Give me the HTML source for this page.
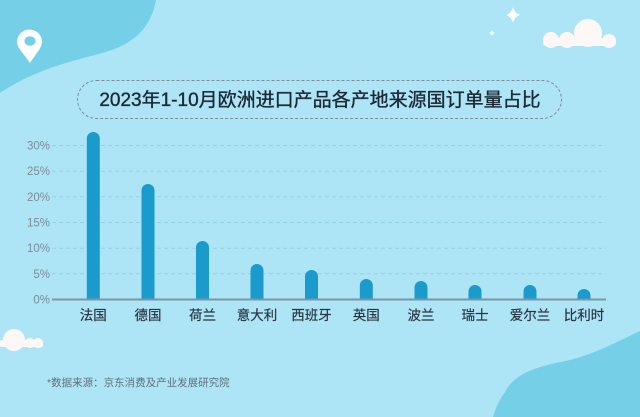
<!DOCTYPE html>
<html><head><meta charset="utf-8"><style>
html,body{margin:0;padding:0;}
body{width:640px;height:417px;overflow:hidden;background:#ade5f7;}
svg{display:block;}
text{font-family:"Liberation Sans","Noto Sans CJK SC",sans-serif;}
</style></head><body>
<svg width="640" height="417" viewBox="0 0 640 417" xmlns="http://www.w3.org/2000/svg">
<rect width="640" height="417" fill="#ade5f7"/>
<!-- top-left blob -->
<path d="M0,0 L156,0 C152,22 140,40 112,50 C80,60 40,66 0,93 Z" fill="#74cfe7"/>
<!-- bottom-right blob -->
<path d="M640,331 C620,340 600,352 570,360 C540,366 515,372 505,392 C498,402 495,410 493,417 L640,417 Z" fill="#74cfe7"/>
<!-- pin -->
<path d="M30,63 C25,55 17,48 17,42 A12.5,12.5 0 0 1 42,42 C42,48 35,55 30,63 Z" fill="#ffffff"/>
<ellipse cx="30" cy="41" rx="5.5" ry="4.8" fill="#74cfe7"/>
<!-- stars -->
<path d="M513,7 Q514.5,13.5 520,15 Q514.5,16.5 513,23 Q511.5,16.5 506,15 Q511.5,13.5 513,7 Z" fill="#ffffff"/>
<path d="M492,30 Q492.6,32.4 495,33 Q492.6,33.6 492,36 Q491.4,33.6 489,33 Q491.4,32.4 492,30 Z" fill="#ffffff"/>
<!-- top-right cloud -->
<g fill="#fdf7f5">
<circle cx="588" cy="33" r="14"/>
<circle cx="551" cy="40" r="8"/>
<circle cx="567" cy="40" r="8"/>
<circle cx="609" cy="41" r="7"/>
<rect x="543" y="38" width="73" height="8" rx="3"/>
</g>
<!-- bottom-left cloud -->
<g fill="#fdf7f5">
<circle cx="14" cy="340" r="11"/>
<circle cx="30" cy="343" r="5"/>
<circle cx="38" cy="343" r="5"/>
<rect x="0" y="340" width="43" height="7" rx="2"/>
</g>
<!-- title box -->
<rect x="77.5" y="80.5" width="484" height="38" rx="19" fill="none" stroke="#7e8c96" stroke-width="1" stroke-dasharray="3,2"/>
<text x="320" y="106" font-size="19" fill="#1c2833" stroke="#1c2833" stroke-width="0.35" text-anchor="middle">2023年1-10月欧洲进口产品各产地来源国订单量占比</text>
<!-- grid -->
<g stroke="#93d2e6" stroke-width="1" stroke-dasharray="4,3">
<line x1="52" y1="145.5" x2="606" y2="145.5"/>
<line x1="52" y1="171.2" x2="606" y2="171.2"/>
<line x1="52" y1="196.8" x2="606" y2="196.8"/>
<line x1="52" y1="222.5" x2="606" y2="222.5"/>
<line x1="52" y1="248.2" x2="606" y2="248.2"/>
<line x1="52" y1="273.8" x2="606" y2="273.8"/>
</g>
<g font-size="11.5" fill="#7c8c96" text-anchor="end">
<text x="50" y="149.5">30%</text>
<text x="50" y="175.2">25%</text>
<text x="50" y="200.8">20%</text>
<text x="50" y="226.5">15%</text>
<text x="50" y="252.2">10%</text>
<text x="50" y="277.8">5%</text>
<text x="50" y="303.5">0%</text>
</g>
<!-- bars -->
<g fill="#1a9bcb">
<path d="M86.8,300 V138.5 A6.5,6.5 0 0 1 99.8,138.5 V300 Z"/>
<path d="M141.5,300 V190.5 A6.5,6.5 0 0 1 154.5,190.5 V300 Z"/>
<path d="M196,300 V247.5 A6.5,6.5 0 0 1 209,247.5 V300 Z"/>
<path d="M250.5,300 V270.5 A6.5,6.5 0 0 1 263.5,270.5 V300 Z"/>
<path d="M305,300 V276.5 A6.5,6.5 0 0 1 318,276.5 V300 Z"/>
<path d="M359.8,300 V285.5 A6.5,6.5 0 0 1 372.8,285.5 V300 Z"/>
<path d="M414.5,300 V287.5 A6.5,6.5 0 0 1 427.5,287.5 V300 Z"/>
<path d="M468.5,300 V291.5 A6.5,6.5 0 0 1 481.5,291.5 V300 Z"/>
<path d="M523.5,300 V291.5 A6.5,6.5 0 0 1 536.5,291.5 V300 Z"/>
<path d="M577.5,300 V295.5 A6.5,6.5 0 0 1 590.5,295.5 V300 Z"/>
</g>
<line x1="52" y1="299.5" x2="606" y2="299.5" stroke="#7a97a6" stroke-width="2"/>
<!-- x labels -->
<g font-size="13.5" fill="#2a3540" stroke="#2a3540" stroke-width="0.2" text-anchor="middle">
<text x="93.3" y="320">法国</text>
<text x="148" y="320">德国</text>
<text x="202.5" y="320">荷兰</text>
<text x="257" y="320">意大利</text>
<text x="311.5" y="320">西班牙</text>
<text x="366.3" y="320">英国</text>
<text x="421" y="320">波兰</text>
<text x="475" y="320">瑞士</text>
<text x="530" y="320">爱尔兰</text>
<text x="584" y="320">比利时</text>
</g>
<text x="47" y="386" font-size="10.5" fill="#5f6f7a">*数据来源：京东消费及产业发展研究院</text>
</svg>
</body></html>
